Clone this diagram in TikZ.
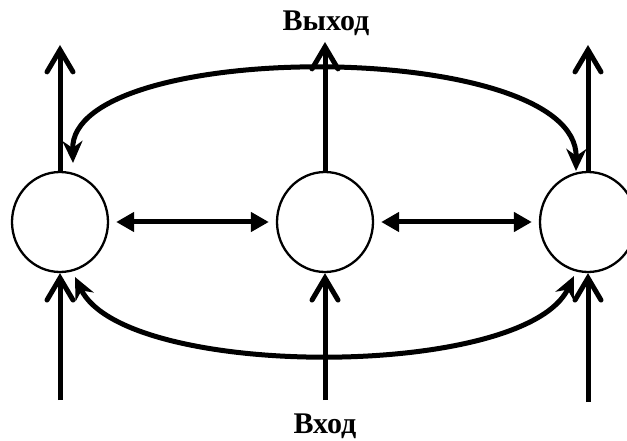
\documentclass[tikz,border=0pt]{standalone}
\usepackage{fontspec}
\setmainfont{Liberation Serif}
\usetikzlibrary{arrows.meta,shapes.geometric}
\tikzset{
  cell/.style={draw,ellipse,line width=2.3pt,minimum width=96pt,minimum height=100pt,inner sep=0pt,fill=white},
  vflow/.style={line width=5pt,-{Straight Barb[length=22pt,width=26pt,line cap=round]}},
  hflow/.style={line width=5pt,{Triangle[length=18pt,width=19pt]}-{Triangle[length=18pt,width=19pt]}},
  arcflow/.style={line width=5pt,{Stealth[length=22pt,width=20pt,inset=7pt]}-{Stealth[length=22pt,width=20pt,inset=7pt]}},
  lbl/.style={font=\bfseries\fontsize{30}{32}\selectfont,anchor=base,inner sep=0pt}
}
\begin{document}
\begin{tikzpicture}[x=1pt,y=-1pt]
\useasboundingbox (0,0) rectangle (627,441);
\clip (0,0) rectangle (627,441);
% nodes
\node[cell] (L) at (60,222) {};
\node[cell] (M) at (325,222) {};
\node[cell] (R) at (588,222) {};
% free ends
\coordinate (Lout) at (60,45);
\coordinate (Mout) at (325,42);
\coordinate (Rout) at (588,45);
\coordinate (Lin) at (60,400);
\coordinate (Min) at (325,400);
\coordinate (Rin) at (588,402);
\coordinate (ta) at (73,163);
\coordinate (tb) at (576,171);
\coordinate (ba) at (75,277);
\coordinate (bb) at (574,276);
% arcs
\draw[arcflow] (ta) .. controls (70,38) and (578,38) .. (tb);
\draw[arcflow] (ba) .. controls (125,380) and (525,380) .. (bb);
% outputs
\draw[vflow] (L.north) -- (Lout);
\draw[vflow] (M.north) -- (Mout);
\draw[vflow] (R.north) -- (Rout);
% inputs
\draw[vflow] (Lin) -- (L.south);
\draw[vflow] (Min) -- (M.south);
\draw[vflow] (Rin) -- (R.south);
% lateral
\draw[hflow] ([xshift=7pt]L.east) -- ([xshift=-7pt]M.west);
\draw[hflow] ([xshift=7pt]M.east) -- ([xshift=-7pt]R.west);
% labels
\node[lbl] (out) at (326,31) {Выход};
\node[lbl] (in) at (325,433) {Вход};
\end{tikzpicture}
\end{document}
